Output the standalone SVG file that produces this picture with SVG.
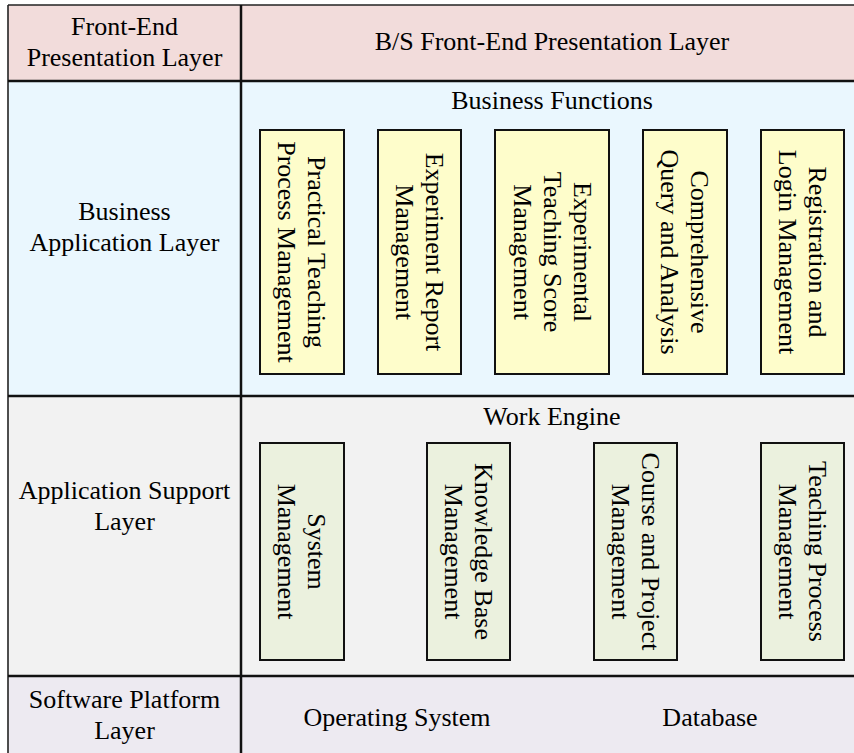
<svg xmlns="http://www.w3.org/2000/svg" width="854" height="753" viewBox="0 0 854 753">
<style>
text{font-family:"Liberation Serif","Times New Roman",serif;font-size:26px;fill:#000;text-anchor:middle}
.grid{stroke:#111;stroke-width:2.5;fill:none}
.outer{stroke:#222;stroke-width:1.6;fill:none}
.yb{fill:#fefdcb;stroke:#111;stroke-width:2}
.gb{fill:#ebf1de;stroke:#111;stroke-width:2}
</style>
<g id="backgrounds">
<rect x="8" y="5" width="860" height="76" fill="#f2dcdb"/>
<rect x="8" y="81" width="860" height="315" fill="#eaf7fe"/>
<rect x="8" y="396" width="860" height="280" fill="#f2f2f2"/>
<rect x="8" y="676" width="860" height="80" fill="#edeaf1"/>
</g>
<g id="grid">
<line class="outer" x1="8" y1="5" x2="870" y2="5"/>
<line class="outer" x1="8" y1="5" x2="8" y2="760"/>
<line class="grid" x1="241" y1="5" x2="241" y2="760"/>
<line class="grid" x1="8" y1="81" x2="870" y2="81"/>
<line class="grid" x1="8" y1="396" x2="870" y2="396"/>
<line class="grid" x1="8" y1="676" x2="870" y2="676"/>
</g>
<g id="layer-front">
<text x="124.5" y="34.5">Front-End</text>
<text x="124.5" y="65.5">Presentation Layer</text>
<text x="552" y="50">B/S Front-End Presentation Layer</text>
</g>
<g id="layer-business">
<text x="124.5" y="220">Business</text>
<text x="124.5" y="251">Application Layer</text>
<text x="552" y="109">Business Functions</text>
</g>
<g id="bf1"><rect class="yb" x="260" y="130" width="84" height="244"/>
<text transform="translate(302,252) rotate(90)"><tspan x="0" y="-6">Practical Teaching</tspan><tspan x="0" y="24">Process Management</tspan></text></g>
<g id="bf2"><rect class="yb" x="378" y="130" width="83" height="244"/>
<text transform="translate(419.5,252) rotate(90)"><tspan x="0" y="-6">Experiment Report</tspan><tspan x="0" y="24">Management</tspan></text></g>
<g id="bf3"><rect class="yb" x="495" y="130" width="114" height="244"/>
<text transform="translate(552,252) rotate(90)"><tspan x="0" y="-21.5">Experimental</tspan><tspan x="0" y="8.5">Teaching Score</tspan><tspan x="0" y="38.5">Management</tspan></text></g>
<g id="bf4"><rect class="yb" x="643" y="130" width="84" height="244"/>
<text transform="translate(685,252) rotate(90)"><tspan x="0" y="-6">Comprehensive</tspan><tspan x="0" y="24">Query and Analysis</tspan></text></g>
<g id="bf5"><rect class="yb" x="761" y="130" width="83" height="244"/>
<text transform="translate(802.5,252) rotate(90)"><tspan x="0" y="-6">Registration and</tspan><tspan x="0" y="24">Login Management</tspan></text></g>
<g id="layer-support">
<text x="124.5" y="499">Application Support</text>
<text x="124.5" y="530">Layer</text>
<text x="552" y="425">Work Engine</text>
</g>
<g id="we1"><rect class="gb" x="260" y="443" width="84" height="217"/>
<text transform="translate(302,551.5) rotate(90)"><tspan x="0" y="-6">System</tspan><tspan x="0" y="24">Management</tspan></text></g>
<g id="we2"><rect class="gb" x="427" y="443" width="83" height="217"/>
<text transform="translate(468.5,551.5) rotate(90)"><tspan x="0" y="-6">Knowledge Base</tspan><tspan x="0" y="24">Management</tspan></text></g>
<g id="we3"><rect class="gb" x="594" y="443" width="83" height="217"/>
<text transform="translate(635.5,551.5) rotate(90)"><tspan x="0" y="-6">Course and Project</tspan><tspan x="0" y="24">Management</tspan></text></g>
<g id="we4"><rect class="gb" x="761" y="443" width="83" height="217"/>
<text transform="translate(802.5,551.5) rotate(90)"><tspan x="0" y="-6">Teaching Process</tspan><tspan x="0" y="24">Management</tspan></text></g>
<g id="layer-platform">
<text x="124.5" y="708">Software Platform</text>
<text x="124.5" y="739">Layer</text>
<text x="397" y="726">Operating System</text>
<text x="710" y="726">Database</text>
</g>
</svg>
